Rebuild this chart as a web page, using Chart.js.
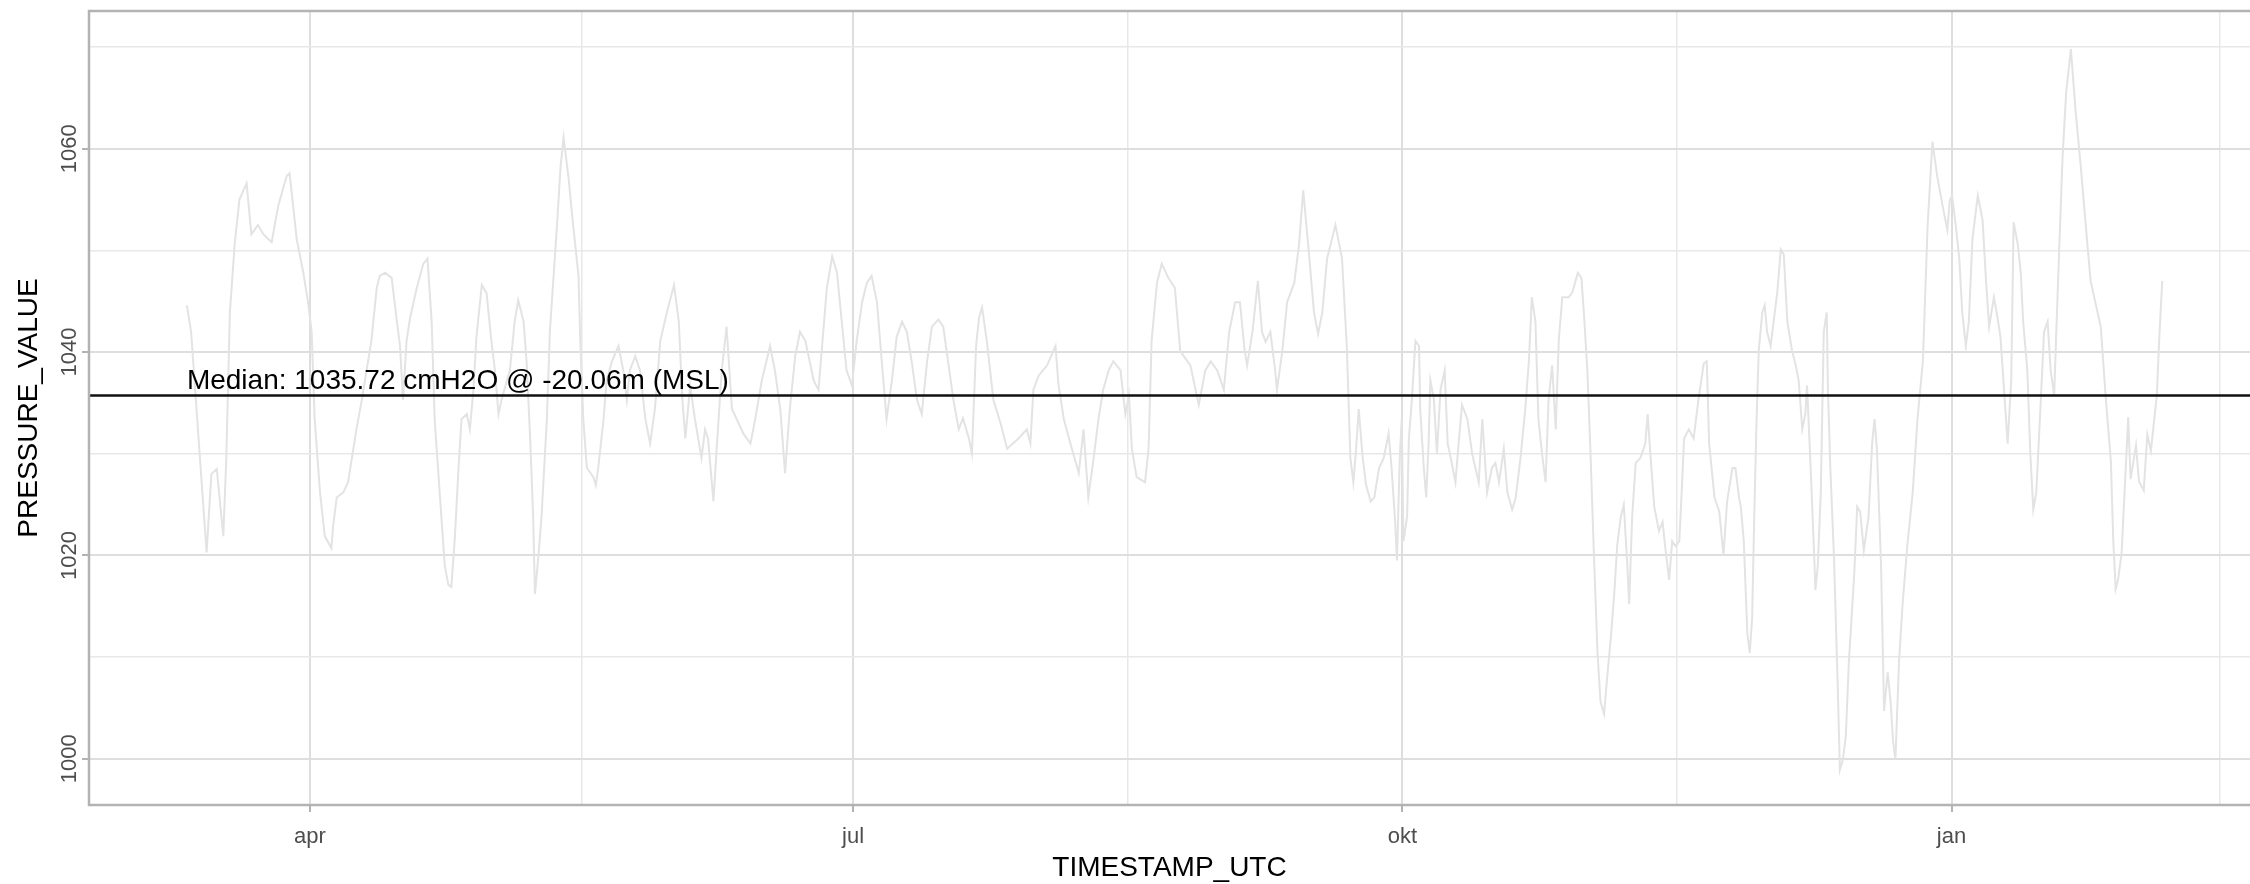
<!DOCTYPE html>
<html>
<head>
<meta charset="utf-8">
<title>PRESSURE_VALUE</title>
<script src="https://cdn.jsdelivr.net/npm/chart.js@4.4.0/dist/chart.umd.min.js"></script>
<style>
  html, body { margin: 0; padding: 0; background: #fff; overflow: hidden; }
  #wrap { width: 2250px; height: 884px; }
</style>
</head>
<body>
<div id="wrap"><canvas id="pressureChart" width="2250" height="884"></canvas></div>
<script>
// x = days after 1 April (apr), y = pressure reading
const dayOffsets = [
  -20.6, -19.9, -17.3, -16.5, -15.6, -14.5, -14.0, -13.4, -12.6, -11.8,
  -10.6, -9.8, -8.7, -7.8, -6.4, -5.3, -3.9, -3.4, -2.2, -1.1,
  -0.3, 0.3, 0.8, 1.7, 2.5, 3.6, 3.9, 4.5, 5.6, 6.4,
  7.8, 8.7, 9.5, 10.3, 11.2, 11.7, 12.6, 13.7, 14.5, 15.1,
  15.6, 16.2, 16.8, 17.9, 19.0, 19.7, 20.4, 20.9, 21.8, 22.6,
  23.2, 23.7, 24.3, 24.9, 25.4, 26.3, 26.8, 27.4, 27.9, 28.8,
  29.6, 30.4, 31.0, 31.6, 32.1, 33.5, 34.3, 34.9, 35.8, 36.3,
  36.9, 37.4, 37.7, 38.3, 38.8, 39.7, 40.2, 41.4, 42.0, 42.5,
  43.3, 44.1, 45.0, 45.3, 45.8, 46.4, 47.5, 47.9, 48.3, 49.2,
  49.7, 50.6, 51.7, 52.5, 53.1, 53.6, 54.5, 55.3, 56.2, 57.0,
  57.8, 58.7, 59.8, 61.0, 61.8, 62.4, 62.9, 63.7, 64.5, 65.6,
  66.2, 66.7, 67.6, 68.2, 69.0, 69.8, 70.7, 71.5, 72.6, 73.8,
  74.6, 75.7, 77.1, 77.9, 78.8, 79.6, 80.4, 81.3, 82.1, 83.0,
  84.4, 85.2, 86.0, 86.6, 87.5, 88.3, 89.1, 89.9, 90.8, 91.6,
  92.5, 93.3, 94.1, 95.0, 95.8, 96.6, 97.5, 98.3, 99.2, 100.0,
  100.8, 101.7, 102.5, 103.4, 104.2, 105.3, 106.1, 106.9, 107.8, 108.7,
  109.4, 110.4, 110.9, 111.6, 112.1, 112.6, 113.4, 114.5, 115.7, 116.8,
  118.7, 120.1, 120.7, 121.2, 122.1, 123.5, 124.9, 125.4, 126.3, 127.4,
  128.8, 129.6, 130.4, 131.3, 132.1, 132.9, 133.8, 134.6, 135.8, 136.6,
  137.2, 137.7, 138.5, 139.9, 140.5, 141.0, 141.9, 142.7, 143.8, 144.9,
  145.8, 147.5, 148.9, 150.0, 150.9, 152.0, 153.1, 154.0, 155.0, 155.8,
  156.6, 157.0, 157.9, 158.8, 159.5, 160.1, 160.9, 161.7, 162.0, 162.9,
  163.7, 164.9, 165.7, 166.4, 167.3, 168.2, 168.9, 169.6, 170.4, 171.8,
  172.9, 173.7, 174.3, 174.8, 175.2, 175.7, 176.3, 176.9, 177.7, 178.3,
  179.1, 179.9, 180.7, 181.2, 181.8, 182.1, 182.6, 182.9, 183.2, 183.8,
  184.1, 184.6, 185.2, 185.8, 186.0, 186.6, 187.0, 187.4, 187.7, 188.3,
  188.8, 189.4, 190.1, 190.6, 191.1, 191.9, 192.5, 193.0, 193.9, 194.7,
  195.8, 196.4, 197.2, 198.0, 198.6, 199.2, 200.0, 200.6, 201.4, 202.0,
  202.8, 203.6, 204.2, 204.7, 205.3, 205.8, 206.4, 207.0, 207.5, 208.1,
  208.7, 209.2, 209.8, 210.9, 211.5, 212.4, 213.0, 213.4, 214.0, 214.5,
  215.1, 215.7, 216.2, 216.8, 217.3, 217.9, 218.5, 219.0, 219.6, 220.1,
  220.7, 221.0, 221.5, 222.1, 222.9, 223.7, 224.1, 224.6, 225.2, 226.0,
  226.6, 227.1, 227.7, 228.2, 228.8, 229.4, 229.7, 230.2, 231.0, 231.8,
  232.6, 233.5, 234.0, 234.4, 235.3, 236.1, 236.8, 237.4, 238.3, 238.8,
  239.4, 239.7, 240.2, 240.8, 241.2, 241.6, 241.9, 242.3, 242.7, 243.3,
  243.7, 244.1, 244.7, 245.2, 245.8, 246.4, 246.9, 247.5, 248.3, 248.9,
  249.4, 250.0, 250.5, 250.8, 251.4, 251.9, 252.2, 252.6, 253.1, 253.6,
  254.1, 254.3, 254.7, 255.3, 255.9, 256.3, 256.8, 257.3, 257.8, 258.7,
  259.2, 259.7, 260.3, 261.1, 261.7, 262.1, 262.5, 263.2, 263.7, 264.3,
  264.8, 265.2, 265.6, 266.2, 266.8, 267.6, 268.5, 269.3, 270.2, 271.0,
  271.8, 272.6, 273.5, 274.3, 274.7, 275.1, 275.7, 276.3, 276.8, 277.4,
  277.9, 278.5, 279.4, 280.2, 280.8, 281.3, 282.1, 282.7, 283.2, 283.8,
  284.4, 285.0, 285.4, 286.1, 286.6, 287.0, 287.7, 288.2, 288.7, 289.2,
  289.8, 290.5, 291.1, 291.6, 292.2, 292.5, 293.1, 293.6, 294.2, 295.0,
  295.8, 296.6, 297.8, 298.3, 300.0, 300.8, 301.7, 302.1, 302.5, 302.9,
  303.5, 304.0, 304.6, 305.0, 305.9, 306.4, 307.2, 307.8, 308.4, 309.4,
  309.8, 310.3
];
const pressureValues = [
  1044.6, 1042.0, 1020.3, 1028.0, 1028.5, 1021.9, 1029.6, 1043.9, 1050.6, 1055.0,
  1056.6, 1051.6, 1052.5, 1051.6, 1050.8, 1054.4, 1057.3, 1057.6, 1051.1, 1047.8,
  1044.9, 1042.0, 1033.4, 1026.2, 1021.9, 1020.7, 1022.9, 1025.7, 1026.2, 1027.2,
  1032.4, 1035.3, 1038.2, 1041.1, 1046.3, 1047.5, 1047.8, 1047.3, 1043.4, 1040.6,
  1035.3, 1041.1, 1043.4, 1046.3, 1048.7, 1049.2, 1043.0, 1033.4, 1025.7, 1019.0,
  1017.1, 1016.9, 1021.9, 1028.6, 1033.4, 1033.9, 1032.4, 1036.3, 1041.5, 1046.6,
  1045.8, 1041.1, 1038.2, 1033.9, 1035.3, 1038.2, 1043.0, 1045.1, 1043.0, 1039.1,
  1031.5, 1023.8, 1016.2, 1020.0, 1023.8, 1033.4, 1042.0, 1052.5, 1058.3, 1061.1,
  1057.3, 1052.5, 1047.5, 1041.1, 1033.4, 1028.6, 1027.7, 1026.9, 1028.6, 1033.4,
  1037.2, 1039.1, 1040.6, 1038.2, 1035.3, 1038.2, 1039.6, 1038.2, 1033.4, 1031.0,
  1034.4, 1041.1, 1043.9, 1046.6, 1043.0, 1035.3, 1031.5, 1036.7, 1033.4, 1029.6,
  1032.4, 1031.5, 1025.3, 1031.0, 1038.2, 1042.5, 1034.4, 1033.4, 1032.0, 1031.0,
  1033.4, 1037.2, 1040.6, 1038.2, 1034.4, 1028.1, 1034.4, 1039.6, 1042.0, 1041.1,
  1037.2, 1036.3, 1042.0, 1046.3, 1049.4, 1047.8, 1043.0, 1038.2, 1036.7, 1041.1,
  1044.9, 1046.8, 1047.5, 1044.9, 1039.1, 1033.4, 1037.2, 1041.5, 1043.0, 1042.0,
  1039.1, 1035.3, 1033.9, 1039.1, 1042.5, 1043.2, 1042.5, 1039.1, 1035.3, 1032.4,
  1033.5, 1031.5, 1030.0, 1040.6, 1043.4, 1044.4, 1041.1, 1035.3, 1033.0, 1030.5,
  1031.5, 1032.4, 1031.0, 1036.3, 1037.7, 1038.7, 1040.6, 1036.8, 1033.4, 1031.0,
  1028.1, 1032.4, 1025.7, 1029.6, 1033.4, 1036.3, 1038.2, 1039.1, 1038.2, 1033.9,
  1035.8, 1030.5, 1027.7, 1027.2, 1030.5, 1041.1, 1046.8, 1048.7, 1047.3, 1046.3,
  1040.1, 1038.7, 1034.8, 1038.2, 1039.1, 1038.2, 1036.3, 1042.0, 1044.9, 1044.9,
  1040.1, 1038.7, 1042.0, 1047.0, 1042.0, 1041.0, 1042.0, 1038.2, 1036.3, 1040.1,
  1044.9, 1046.8, 1050.6, 1055.9, 1050.1, 1043.9, 1041.8, 1043.9, 1049.2, 1052.5,
  1049.2, 1040.6, 1029.6, 1027.2, 1030.0, 1034.4, 1030.0, 1027.0, 1025.3, 1025.7,
  1028.6, 1029.6, 1032.0, 1028.6, 1023.3, 1019.5, 1030.0, 1033.4, 1021.4, 1023.8,
  1031.5, 1035.3, 1041.1, 1040.6, 1034.4, 1028.6, 1025.7, 1031.0, 1037.2, 1035.3,
  1030.0, 1036.3, 1038.2, 1031.0, 1029.6, 1027.2, 1031.5, 1034.8, 1033.4, 1030.0,
  1027.2, 1033.4, 1026.2, 1028.6, 1029.1, 1027.2, 1030.5, 1026.2, 1024.5, 1025.7,
  1029.6, 1034.4, 1039.1, 1045.4, 1043.0, 1033.4, 1030.0, 1027.2, 1035.3, 1038.7,
  1032.4, 1041.1, 1045.4, 1045.4, 1045.9, 1047.8, 1047.3, 1044.0, 1038.2, 1030.5,
  1020.0, 1010.4, 1005.6, 1004.4, 1007.9, 1011.7, 1016.2, 1021.0, 1023.8, 1025.0,
  1019.0, 1015.2, 1023.8, 1029.1, 1029.6, 1031.0, 1033.9, 1029.6, 1024.8, 1022.4,
  1023.3, 1020.5, 1017.6, 1021.4, 1020.9, 1021.4, 1025.0, 1031.5, 1032.4, 1031.5,
  1035.3, 1038.9, 1039.1, 1031.0, 1025.7, 1024.3, 1020.0, 1025.3, 1028.6, 1028.6,
  1025.7, 1024.8, 1021.4, 1012.3, 1010.4, 1013.8, 1022.4, 1032.4, 1040.1, 1043.9,
  1044.6, 1042.0, 1040.6, 1043.0, 1045.8, 1050.1, 1049.6, 1043.0, 1040.1, 1038.7,
  1037.2, 1032.4, 1033.9, 1036.7, 1028.6, 1021.4, 1016.6, 1019.0, 1026.2, 1042.0,
  1043.9, 1036.3, 1028.6, 1020.0, 1008.0, 998.9, 999.9, 1002.3, 1009.5, 1018.1,
  1024.8, 1024.3, 1020.5, 1023.8, 1031.0, 1033.4, 1030.5, 1019.0, 1004.7, 1008.5,
  1005.6, 1001.8, 999.9, 1009.5, 1015.2, 1021.0, 1026.2, 1033.4, 1039.1, 1052.5,
  1060.7, 1057.3, 1054.4, 1052.0, 1054.9, 1055.4, 1052.5, 1049.2, 1043.9, 1040.6,
  1043.0, 1051.1, 1055.4, 1053.0, 1046.8, 1042.5, 1045.4, 1043.4, 1041.5, 1036.3,
  1031.0, 1037.2, 1052.8, 1050.6, 1047.8, 1043.0, 1038.2, 1030.0, 1024.5, 1026.2,
  1033.4, 1042.0, 1043.0, 1038.2, 1035.8, 1041.1, 1051.1, 1059.2, 1065.5, 1069.8,
  1063.6, 1058.6, 1050.3, 1047.0, 1042.5, 1035.8, 1029.2, 1021.4, 1016.7, 1017.6,
  1020.3, 1026.4, 1033.6, 1027.5, 1030.8, 1027.3, 1026.4, 1031.9, 1030.3, 1035.8,
  1041.4, 1047.0
];

const medianValue = 1035.72;
const medianLabel = 'Median: 1035.72 cmH2O @ -20.06m (MSL)';

const xMajorDays = [0, 91, 183, 275];
const xMajorLabels = ['apr', 'jul', 'okt', 'jan'];
const xMinorDays = [45.5, 137, 229, 320];
const yMajorValues = [1000, 1020, 1040, 1060];
const yMinorValues = [1010, 1030, 1050, 1070];
const xRange = [-37, 325];
const yRange = [995.45, 1073.55];

const FONT = '"Liberation Sans", Arial, sans-serif';

function gridTicks(major, minor) {
  return major.map(v => ({ value: v, major: true }))
    .concat(minor.map(v => ({ value: v, major: false })))
    .sort((a, b) => a.value - b.value);
}
const isMajor = ctx => !!(ctx.tick && ctx.tick.major);

const gridStyle = {
  color: ctx => isMajor(ctx) ? '#dedede' : '#e8e8e8',
  lineWidth: ctx => isMajor(ctx) ? 2 : 1.5,
  tickLength: 7,
  tickColor: ctx => isMajor(ctx) ? '#b3b3b3' : 'rgba(0,0,0,0)',
  tickWidth: 2
};

const overlay = {
  id: 'overlay',
  afterDatasetsDraw(chart) {
    const { ctx, chartArea: a, scales: { x, y } } = chart;
    ctx.save();
    // median annotation
    ctx.font = '28px ' + FONT;
    ctx.fillStyle = '#000';
    ctx.textAlign = 'left';
    ctx.textBaseline = 'alphabetic';
    ctx.fillText(medianLabel, x.getPixelForValue(dayOffsets[0]), y.getPixelForValue(medianValue) - 7);
    // panel border (right side runs off the canvas)
    ctx.strokeStyle = '#b3b3b3';
    ctx.lineWidth = 2.5;
    ctx.strokeRect(a.left, a.top, a.right - a.left + 20, a.bottom - a.top);
    ctx.restore();
  },
  afterDraw(chart) {
    const { ctx, scales: { y } } = chart;
    ctx.save();
    ctx.font = '22px ' + FONT;
    ctx.fillStyle = '#4d4d4d';
    ctx.textAlign = 'center';
    ctx.textBaseline = 'alphabetic';
    yMajorValues.forEach(v => {
      ctx.save();
      ctx.translate(76, y.getPixelForValue(v));
      ctx.rotate(-Math.PI / 2);
      ctx.fillText(String(v), 0, 0);
      ctx.restore();
    });
    ctx.restore();
  }
};

const pressurePoints = dayOffsets.map((d, i) => ({ x: d, y: pressureValues[i] }));

new Chart(document.getElementById('pressureChart'), {
  type: 'line',
  data: {
    datasets: [
      {
        label: 'median',
        data: [{ x: xRange[0], y: medianValue }, { x: xRange[1], y: medianValue }],
        borderColor: '#111',
        borderWidth: 2.5,
        pointRadius: 0,
        order: 0
      },
      {
        label: 'PRESSURE_VALUE',
        data: pressurePoints,
        borderColor: '#e3e3e3',
        borderWidth: 2,
        pointRadius: 0,
        tension: 0,
        order: 1
      }
    ]
  },
  options: {
    responsive: false,
    animation: false,
    devicePixelRatio: 1,
    events: [],
    layout: { padding: { top: 11, right: 0, bottom: 0, left: 0 } },
    plugins: {
      legend: { display: false },
      tooltip: { enabled: false }
    },
    scales: {
      x: {
        type: 'linear',
        min: xRange[0],
        max: xRange[1],
        afterBuildTicks: s => { s.ticks = gridTicks(xMajorDays, xMinorDays); },
        afterFit: s => { s.height = 79; },
        border: { display: false },
        grid: gridStyle,
        ticks: {
          autoSkip: false,
          maxRotation: 0,
          minRotation: 0,
          padding: 12,
          color: '#4d4d4d',
          font: { family: FONT, size: 22 },
          callback: value => {
            const i = xMajorDays.indexOf(value);
            return i >= 0 ? xMajorLabels[i] : '';
          }
        },
        title: {
          display: true,
          text: 'TIMESTAMP_UTC',
          color: '#000',
          font: { family: FONT, size: 28, lineHeight: 1.0 },
          padding: { top: 0, bottom: 2 }
        }
      },
      y: {
        type: 'linear',
        min: yRange[0],
        max: yRange[1],
        afterBuildTicks: s => { s.ticks = gridTicks(yMajorValues, yMinorValues); },
        afterFit: s => { s.width = 89; },
        border: { display: false },
        grid: gridStyle,
        ticks: { display: false },
        title: {
          display: true,
          text: 'PRESSURE_VALUE',
          color: '#000',
          font: { family: FONT, size: 28 },
          padding: { top: 12, bottom: 0 }
        }
      }
    }
  },
  plugins: [overlay]
});
</script>
</body>
</html>
